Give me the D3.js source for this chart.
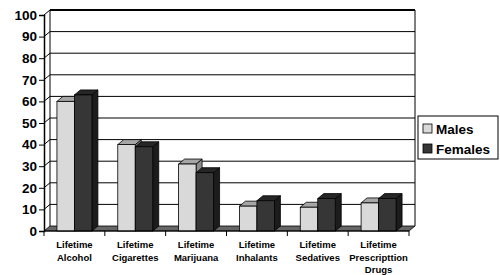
<!DOCTYPE html>
<html lang="en">
<head>
<meta charset="UTF-8"/>
<title>Lifetime substance use by gender</title>
<script src="https://d3js.org/d3.v7.min.js"></script>
<style>
  body { margin: 0; background: #fff; }
  text { font-family: "Liberation Sans", Arial, sans-serif; font-weight: bold; }
</style>
</head>
<body>
<svg id="chart" width="500" height="275"></svg>
<script>
// data
var categories = ["Lifetime|Alcohol", "Lifetime|Cigarettes", "Lifetime|Marijuana",
                  "Lifetime|Inhalants", "Lifetime|Sedatives", "Lifetime|Prescripttion|Drugs"];
var series = ["Males", "Females"];
var males = [60, 40, 31, 11.5, 11, 13];
var females = [63, 39, 27, 14, 15, 15];
var yTicks = [0, 10, 20, 30, 40, 50, 60, 70, 80, 90, 100];

var colors = {
  Males:   { front: "#d9d9d9", top: "#a6a6a6", side: "#8c8c8c" },
  Females: { front: "#363636", top: "#262626", side: "#1c1c1c" }
};

var svg = d3.select("#chart");
var dx = 6, dy = -5;   // depth offset of the 3d look

var y = d3.scaleLinear().domain([0, 100]).range([231, 15]);
var x = d3.scaleBand().domain(categories).range([44, 409]);
var xs = d3.scaleBand().domain(series).range([0, x.bandwidth()])
  .paddingInner(0).paddingOuter(0.74);

var x0 = x.range()[0], x1 = x.range()[1];

// back wall
svg.append("path")
  .attr("d", "M" + (x0 + dx) + "," + (y(0) + dy) + "V" + (y(100) + dy) + "H" + (x1 + dx) + "V" + (y(0) + dy))
  .attr("fill", "#fff").attr("stroke", "#000").attr("stroke-width", 1);
svg.append("line")
  .attr("x1", x0 + dx).attr("x2", x1 + dx)
  .attr("y1", y(100) + dy).attr("y2", y(100) + dy)
  .attr("stroke", "#000").attr("stroke-width", 2);

// gridlines on back wall and side wall
yTicks.forEach(function (t) {
  if (t === 0) return;
  svg.append("path")
    .attr("d", "M" + x0 + "," + y(t) + "L" + (x0 + dx) + "," + (y(t) + dy) + "H" + (x1 + dx))
    .attr("fill", "none").attr("stroke", "#000").attr("stroke-width", 1);
});

// floor
svg.append("path")
  .attr("d", "M" + x0 + "," + y(0) + "L" + x1 + "," + y(0) + "L" + (x1 + dx) + "," + (y(0) + dy) +
             "L" + (x0 + dx) + "," + (y(0) + dy) + "Z")
  .attr("fill", "#666").attr("stroke", "#000").attr("stroke-width", 0.8);

// bars
var rows = [];
categories.forEach(function (c, i) {
  rows.push({ cat: c, s: "Males", v: males[i] });
  rows.push({ cat: c, s: "Females", v: females[i] });
});

var bars = svg.append("g").selectAll("g").data(rows).join("g");
bars.each(function (d) {
  var g = d3.select(this);
  var bx = x(d.cat) + xs(d.s), bw = xs.bandwidth();
  var top = y(d.v), bot = y(0);
  var col = colors[d.s];
  g.append("path")
    .attr("d", "M" + (bx + bw) + "," + top + "L" + (bx + bw + dx) + "," + (top + dy) +
               "V" + (bot + dy) + "L" + (bx + bw) + "," + bot + "Z")
    .attr("fill", col.side).attr("stroke", "#000").attr("stroke-width", 0.8);
  g.append("path")
    .attr("d", "M" + bx + "," + top + "L" + (bx + dx) + "," + (top + dy) + "H" + (bx + bw + dx) +
               "L" + (bx + bw) + "," + top + "Z")
    .attr("fill", col.top).attr("stroke", "#000").attr("stroke-width", 0.8);
  g.append("rect")
    .attr("x", bx).attr("y", top).attr("width", bw).attr("height", bot - top)
    .attr("fill", col.front).attr("stroke", "#000").attr("stroke-width", 0.8);
});

// y axis
var yAxis = svg.append("g")
  .attr("transform", "translate(" + x0 + ",0)")
  .call(d3.axisLeft(y).tickValues(yTicks).tickSize(5).tickPadding(2).tickFormat(d3.format("d")));
yAxis.select(".domain").attr("stroke-width", 1.5);
yAxis.selectAll("text").attr("font-size", 13.5).attr("fill", "#000")
  .style("font-family", "'Liberation Sans', Arial, sans-serif").style("font-weight", "bold");

// category ticks at boundaries
var bounds = categories.map(function (c) { return x(c); }).concat([x1]);
svg.append("g").selectAll("line").data(bounds).join("line")
  .attr("x1", function (d) { return d; }).attr("x2", function (d) { return d; })
  .attr("y1", y(0)).attr("y2", y(0) + 5)
  .attr("stroke", "#000").attr("stroke-width", 1);
svg.append("line")
  .attr("x1", x0).attr("x2", x1).attr("y1", y(0)).attr("y2", y(0))
  .attr("stroke", "#000").attr("stroke-width", 1);

// category labels
var labels = svg.append("g").selectAll("text").data(categories).join("text")
  .attr("text-anchor", "middle").attr("font-size", 9.5).attr("fill", "#000")
  .attr("transform", function (d) { return "translate(" + (x(d) + x.bandwidth() / 2) + ",248)"; });
labels.selectAll("tspan").data(function (d) { return d.split("|"); }).join("tspan")
  .attr("x", 0).attr("dy", function (d, i) { return i === 0 ? 0 : 12.5; })
  .text(function (d) { return d; });

// legend
var legend = svg.append("g").attr("transform", "translate(418,116)");
legend.append("rect").attr("width", 80).attr("height", 43)
  .attr("fill", "#fff").attr("stroke", "#000").attr("stroke-width", 1);
series.forEach(function (s, i) {
  var row = legend.append("g").attr("transform", "translate(5," + (8 + i * 20) + ")");
  row.append("rect").attr("width", 9).attr("height", 9)
    .attr("fill", colors[s].front).attr("stroke", "#000").attr("stroke-width", 0.8);
  row.append("text").attr("x", 13).attr("y", 9.5).attr("font-size", 13.5).attr("fill", "#000").text(s);
});
</script>
</body>
</html>
